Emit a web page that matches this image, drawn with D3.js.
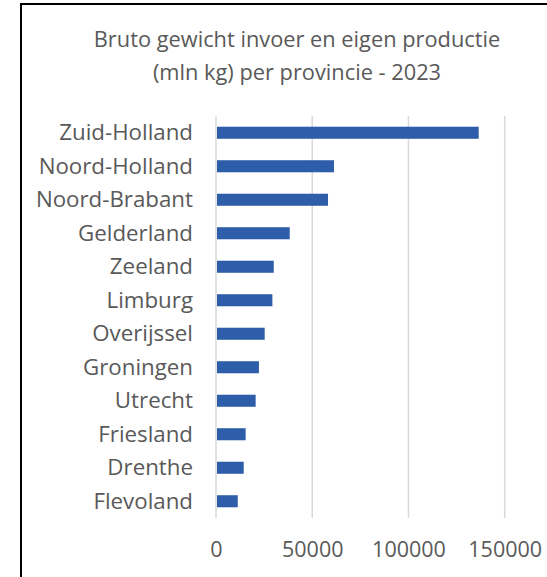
<!DOCTYPE html>
<html>
<head>
<meta charset="utf-8">
<script src="https://cdn.jsdelivr.net/npm/d3@7"></script>
<style>
  html, body { margin: 0; padding: 0; background: #fff; }
  svg { display: block; }
  text { font-family: "Open Sans", "Liberation Sans", Arial, sans-serif; fill: #595959; }
</style>
</head>
<body>
<svg id="chart" width="547" height="577"></svg>
<script>
const titleLines = ["Bruto gewicht invoer en eigen productie", "(mln kg) per provincie - 2023"];
const provinces = ["Zuid-Holland", "Noord-Holland", "Noord-Brabant", "Gelderland", "Zeeland", "Limburg",
                   "Overijssel", "Groningen", "Utrecht", "Friesland", "Drenthe", "Flevoland"];
const weights = [136500, 61300, 58200, 38300, 30000, 29300, 25300, 22300, 20600, 15400, 14400, 11300];
const xTicks = [0, 50000, 100000, 150000];

const svg = d3.select("#chart");

// chart frame
svg.append("rect")
  .attr("x", 21).attr("y", 4)
  .attr("width", 600).attr("height", 600)
  .attr("fill", "#fff")
  .attr("stroke", "#000").attr("stroke-width", 2);

// title
svg.append("text")
  .attr("text-anchor", "middle")
  .attr("font-size", 21.8)
  .selectAll("tspan").data(titleLines).join("tspan")
  .attr("x", 297)
  .attr("y", (d, i) => 47 + i * 33)
  .text(d => d);

const x = d3.scaleLinear().domain([0, 150000]).range([216, 504.7]);
const y = d3.scaleBand().domain(provinces).range([116, 518]).paddingInner(0.64).paddingOuter(0.32);

// gridlines
svg.append("g").selectAll("line").data(xTicks).join("line")
  .attr("x1", d => x(d)).attr("x2", d => x(d))
  .attr("y1", 116).attr("y2", 518)
  .attr("stroke", "#d9d9d9").attr("stroke-width", 1.5);

// bars
svg.append("g").selectAll("rect").data(provinces).join("rect")
  .attr("x", x(0) + 1)
  .attr("y", d => y(d))
  .attr("width", (d, i) => x(weights[i]) - x(0) - 1)
  .attr("height", y.bandwidth())
  .attr("fill", "#2E5DAA");

// category axis labels
const yAxis = d3.axisLeft(y).tickSize(0).tickPadding(0);
const gy = svg.append("g").attr("transform", "translate(193,0)").call(yAxis);
gy.select(".domain").remove();
gy.selectAll("text")
  .attr("font-size", 22.3)
  .attr("fill", "#595959")
  .attr("font-family", "'Open Sans', sans-serif")
  .attr("dy", "0.33em");

// value axis labels
const xAxis = d3.axisBottom(x).tickValues(xTicks).tickFormat(d3.format("d")).tickSize(0).tickPadding(0);
const gx = svg.append("g").attr("transform", "translate(0,557)").call(xAxis);
gx.select(".domain").remove();
gx.selectAll("text")
  .attr("font-size", 21.5)
  .attr("fill", "#595959")
  .attr("font-family", "'Open Sans', sans-serif")
  .attr("dy", 0);
</script>
</body>
</html>
